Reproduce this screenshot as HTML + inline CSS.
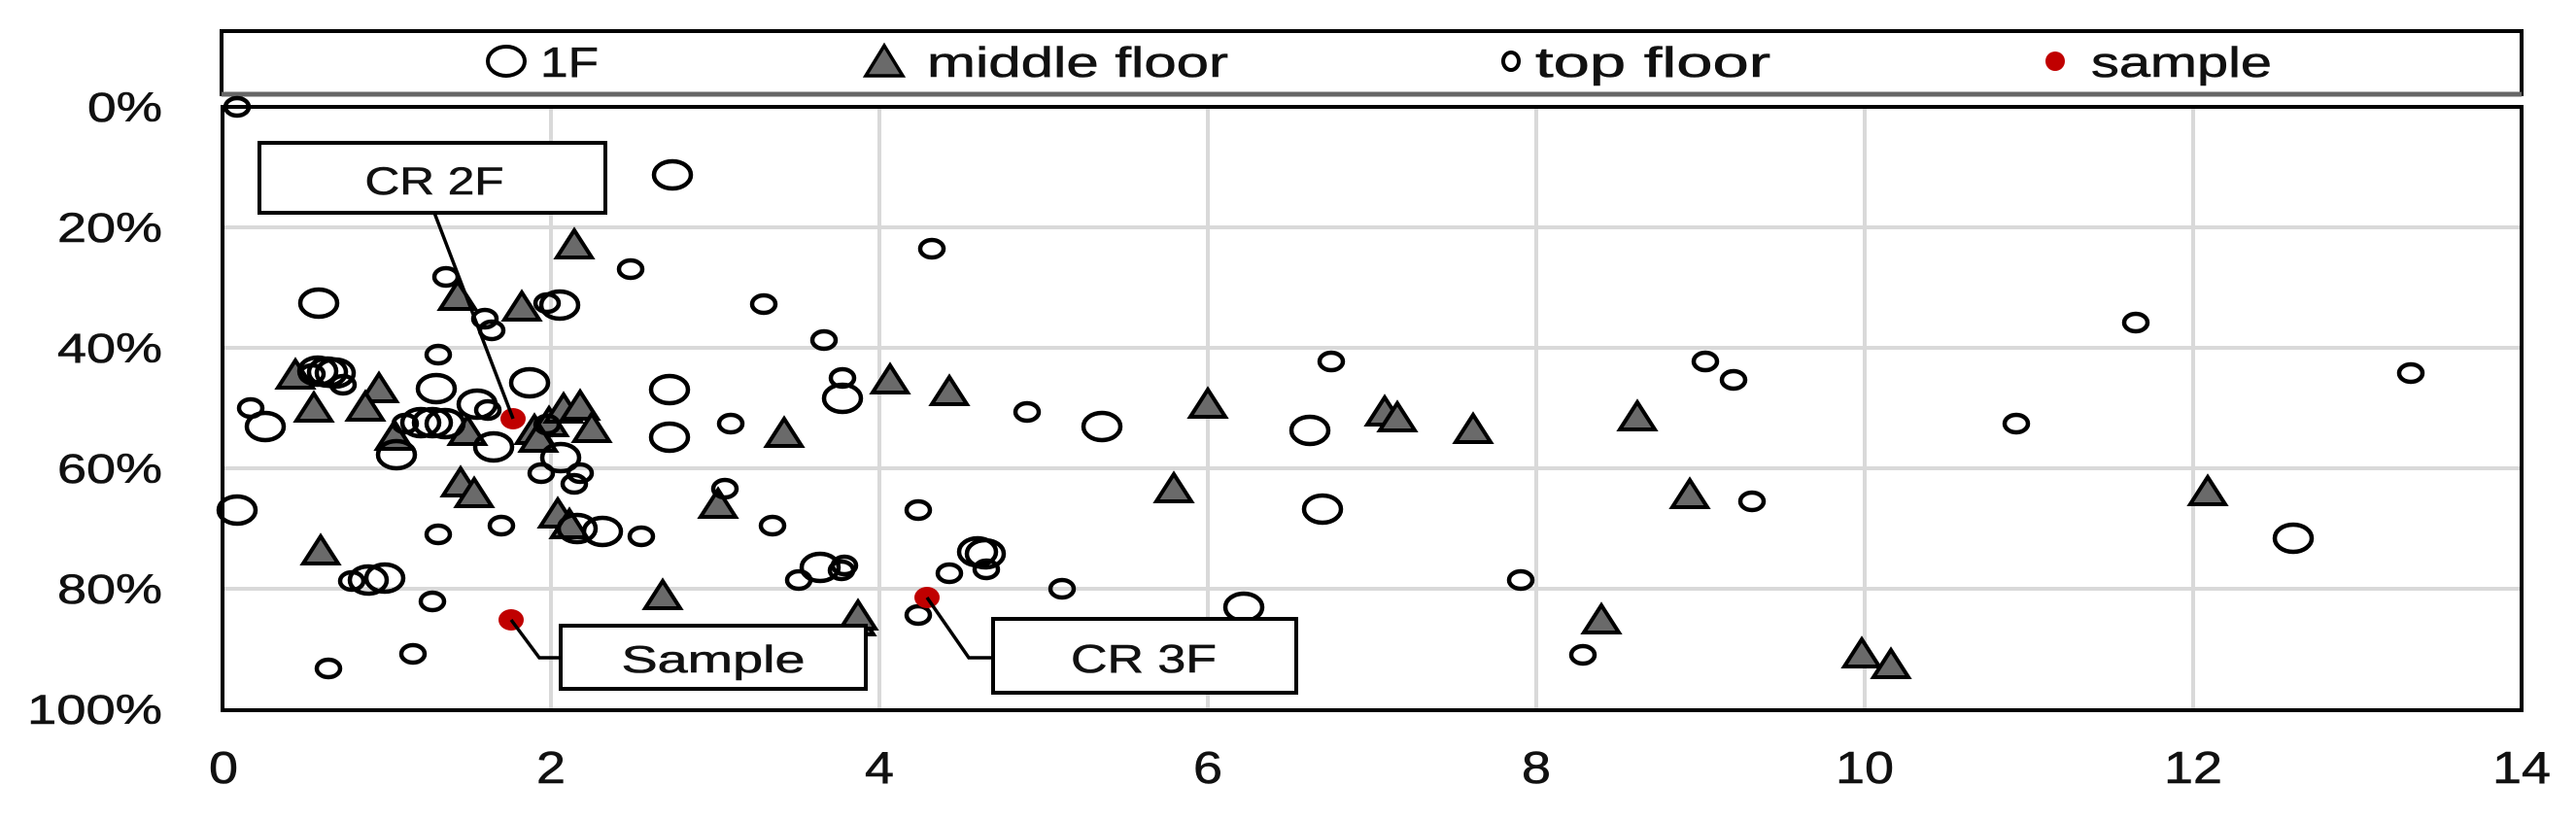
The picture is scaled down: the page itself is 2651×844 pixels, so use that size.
<!DOCTYPE html>
<html><head><meta charset="utf-8"><style>
html,body{margin:0;padding:0;background:#fff;}
svg{display:block;}
text{font-family:"Liberation Sans",sans-serif;fill:#111;stroke:#111;stroke-width:0.6;}
</style></head><body>
<svg width="2651" height="844" viewBox="0 0 2651 844" xmlns="http://www.w3.org/2000/svg">
<defs>
<ellipse id="b" cx="0" cy="0" rx="19" ry="14" fill="none" stroke="#000" stroke-width="4.5"/>
<ellipse id="s" cx="0" cy="0" rx="12" ry="9" fill="none" stroke="#000" stroke-width="4.5"/>
<polygon id="t" points="0,-16 18,12 -18,12" fill="#6a6a6a" stroke="#000" stroke-width="4" stroke-linejoin="miter"/>
<ellipse id="r" cx="0" cy="0" rx="13" ry="11" fill="#c00000"/>
</defs>
<!-- legend -->
<rect x="228" y="32" width="2367" height="65" fill="#fff" stroke="#000" stroke-width="4"/>
<line x1="228" y1="97" x2="2595" y2="97" stroke="#666" stroke-width="5"/>
<ellipse cx="521" cy="63" rx="19" ry="15" fill="none" stroke="#000" stroke-width="4"/>
<text x="556" y="79" font-size="44" textLength="60" lengthAdjust="spacingAndGlyphs">1F</text>
<polygon points="910,47 929,78 891,78" fill="#6a6a6a" stroke="#000" stroke-width="3.5"/>
<text x="954" y="79" font-size="44" textLength="310" lengthAdjust="spacingAndGlyphs">middle floor</text>
<ellipse cx="1555" cy="63" rx="8" ry="9" fill="none" stroke="#000" stroke-width="4"/>
<text x="1580" y="79" font-size="44" textLength="242" lengthAdjust="spacingAndGlyphs">top floor</text>
<ellipse cx="2115" cy="63" rx="10" ry="10" fill="#c00000"/>
<text x="2152" y="79" font-size="44" textLength="186" lengthAdjust="spacingAndGlyphs">sample</text>
<!-- grid -->
<g stroke="#d9d9d9" stroke-width="4">
<line x1="229" y1="234" x2="2595" y2="234"/>
<line x1="229" y1="358" x2="2595" y2="358"/>
<line x1="229" y1="482" x2="2595" y2="482"/>
<line x1="229" y1="606" x2="2595" y2="606"/>
<line x1="567" y1="110" x2="567" y2="731"/>
<line x1="905" y1="110" x2="905" y2="731"/>
<line x1="1243" y1="110" x2="1243" y2="731"/>
<line x1="1581" y1="110" x2="1581" y2="731"/>
<line x1="1919" y1="110" x2="1919" y2="731"/>
<line x1="2257" y1="110" x2="2257" y2="731"/>
</g>
<rect x="229" y="110" width="2366" height="621" fill="none" stroke="#000" stroke-width="4"/>
<!-- y labels -->
<g font-size="43" text-anchor="end">
<text x="167" y="125" textLength="77" lengthAdjust="spacingAndGlyphs">0%</text>
<text x="167" y="249" textLength="108" lengthAdjust="spacingAndGlyphs">20%</text>
<text x="167" y="373" textLength="108" lengthAdjust="spacingAndGlyphs">40%</text>
<text x="167" y="497" textLength="108" lengthAdjust="spacingAndGlyphs">60%</text>
<text x="167" y="621" textLength="108" lengthAdjust="spacingAndGlyphs">80%</text>
<text x="167" y="745" textLength="139" lengthAdjust="spacingAndGlyphs">100%</text>
</g>
<!-- x labels -->
<g font-size="46" text-anchor="middle">
<text x="230" y="806" textLength="30" lengthAdjust="spacingAndGlyphs">0</text>
<text x="567" y="806" textLength="30" lengthAdjust="spacingAndGlyphs">2</text>
<text x="905" y="806" textLength="30" lengthAdjust="spacingAndGlyphs">4</text>
<text x="1243" y="806" textLength="30" lengthAdjust="spacingAndGlyphs">6</text>
<text x="1581" y="806" textLength="30" lengthAdjust="spacingAndGlyphs">8</text>
<text x="1919" y="806" textLength="60" lengthAdjust="spacingAndGlyphs">10</text>
<text x="2257" y="806" textLength="60" lengthAdjust="spacingAndGlyphs">12</text>
<text x="2595" y="806" textLength="60" lengthAdjust="spacingAndGlyphs">14</text>
</g>
<!-- triangles -->
<g>
<use href="#t" x="591" y="253"/><use href="#t" x="471" y="306"/><use href="#t" x="537" y="317"/>
<use href="#t" x="304" y="387"/><use href="#t" x="390" y="401"/><use href="#t" x="323" y="421"/>
<use href="#t" x="376" y="420"/><use href="#t" x="406" y="450"/><use href="#t" x="481" y="445"/>
<use href="#t" x="550" y="444"/><use href="#t" x="565" y="436"/><use href="#t" x="580" y="422"/>
<use href="#t" x="597" y="419"/><use href="#t" x="609" y="442"/><use href="#t" x="554" y="452"/>
<use href="#t" x="807" y="447"/><use href="#t" x="739" y="520"/><use href="#t" x="474" y="498"/>
<use href="#t" x="488" y="509"/><use href="#t" x="574" y="530"/><use href="#t" x="586" y="541"/>
<use href="#t" x="330" y="568"/><use href="#t" x="682" y="614"/><use href="#t" x="881" y="641"/>
<use href="#t" x="916" y="392"/><use href="#t" x="977" y="404"/><use href="#t" x="1243" y="417"/>
<use href="#t" x="1425" y="425"/><use href="#t" x="1438" y="431"/><use href="#t" x="1516" y="443"/>
<use href="#t" x="1685" y="430"/><use href="#t" x="1208" y="504"/><use href="#t" x="1739" y="510"/>
<use href="#t" x="883" y="635"/><use href="#t" x="1648" y="639"/><use href="#t" x="2272" y="507"/>
<use href="#t" x="1916" y="674"/><use href="#t" x="1946" y="685"/>
</g>
<!-- 1F big circles -->
<g>
<use href="#b" x="692" y="180"/><use href="#b" x="328" y="312"/><use href="#b" x="576" y="314"/>
<use href="#b" x="327" y="382"/><use href="#b" x="337" y="383"/><use href="#b" x="345" y="384"/>
<use href="#b" x="449" y="400"/><use href="#b" x="545" y="394"/><use href="#b" x="689" y="401"/>
<use href="#b" x="867" y="410"/><use href="#b" x="273" y="439"/><use href="#b" x="491" y="416"/>
<use href="#b" x="433" y="435"/><use href="#b" x="445" y="435"/><use href="#b" x="458" y="436"/>
<use href="#b" x="508" y="460"/><use href="#b" x="577" y="471"/><use href="#b" x="689" y="450"/>
<use href="#b" x="408" y="468"/><use href="#b" x="244" y="525"/><use href="#b" x="594" y="544"/>
<use href="#b" x="620" y="547"/><use href="#b" x="396" y="595"/><use href="#b" x="379" y="597"/>
<use href="#b" x="844" y="584"/><use href="#b" x="1134" y="439"/><use href="#b" x="1348" y="443"/>
<use href="#b" x="1361" y="524"/><use href="#b" x="1006" y="568"/><use href="#b" x="1014" y="570"/>
<use href="#b" x="1280" y="625"/><use href="#b" x="2360" y="554"/>
</g>
<!-- top floor small circles -->
<g>
<use href="#s" x="244" y="110"/><use href="#s" x="649" y="277"/><use href="#s" x="459" y="285"/>
<use href="#s" x="563" y="312"/><use href="#s" x="786" y="313"/><use href="#s" x="499" y="328"/>
<use href="#s" x="506" y="340"/><use href="#s" x="848" y="350"/><use href="#s" x="451" y="365"/>
<use href="#s" x="321" y="385"/><use href="#s" x="353" y="396"/><use href="#s" x="867" y="389"/>
<use href="#s" x="258" y="420"/><use href="#s" x="502" y="422"/><use href="#s" x="417" y="436"/>
<use href="#s" x="563" y="437"/><use href="#s" x="752" y="436"/><use href="#s" x="557" y="487"/>
<use href="#s" x="597" y="487"/><use href="#s" x="591" y="498"/><use href="#s" x="746" y="503"/>
<use href="#s" x="660" y="552"/><use href="#s" x="516" y="541"/><use href="#s" x="451" y="550"/>
<use href="#s" x="795" y="541"/><use href="#s" x="362" y="598"/><use href="#s" x="445" y="619"/>
<use href="#s" x="425" y="673"/><use href="#s" x="338" y="688"/><use href="#s" x="866" y="587"/>
<use href="#s" x="822" y="597"/><use href="#s" x="959" y="256"/><use href="#s" x="1057" y="424"/>
<use href="#s" x="1370" y="372"/><use href="#s" x="945" y="525"/><use href="#s" x="1015" y="586"/>
<use href="#s" x="977" y="590"/><use href="#s" x="869" y="582"/><use href="#s" x="1093" y="606"/>
<use href="#s" x="1565" y="597"/><use href="#s" x="945" y="633"/><use href="#s" x="1629" y="674"/>
<use href="#s" x="2198" y="332"/><use href="#s" x="2481" y="384"/><use href="#s" x="2075" y="436"/>
<use href="#s" x="1755" y="372"/><use href="#s" x="1784" y="391"/><use href="#s" x="1803" y="516"/>
</g>
<!-- red samples -->
<use href="#r" x="528" y="431"/><use href="#r" x="526" y="638"/><use href="#r" x="954" y="615"/>
<!-- callouts -->
<g stroke="#000" stroke-width="3.5" fill="none">
<line x1="447" y1="219" x2="528" y2="431"/>
<polyline points="526,638 555,677 577,677"/>
<polyline points="954,615 997,677 1022,677"/>
</g>
<rect x="267" y="147" width="356" height="72" fill="#fff" stroke="#000" stroke-width="4"/>
<text x="447" y="200" font-size="40" text-anchor="middle" textLength="143" lengthAdjust="spacingAndGlyphs">CR 2F</text>
<rect x="577" y="644" width="314" height="65" fill="#fff" stroke="#000" stroke-width="4"/>
<text x="734" y="692" font-size="39" text-anchor="middle" textLength="189" lengthAdjust="spacingAndGlyphs">Sample</text>
<rect x="1022" y="637" width="312" height="76" fill="#fff" stroke="#000" stroke-width="4"/>
<text x="1177" y="692" font-size="41" text-anchor="middle" textLength="150" lengthAdjust="spacingAndGlyphs">CR 3F</text>
</svg>
</body></html>
